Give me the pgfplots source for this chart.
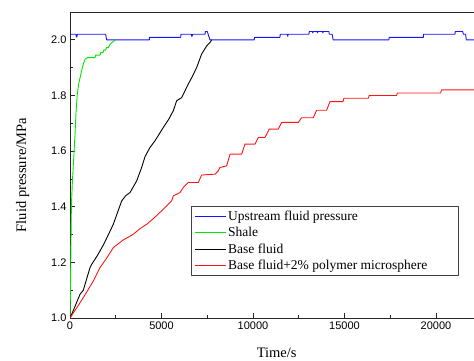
\documentclass[border=0pt]{standalone}
\usepackage{pgfplots}
\pgfplotsset{compat=1.18}
\usepackage{fontspec}
\setmainfont{Liberation Serif}
\newfontfamily\sansf{Liberation Sans}
\definecolor{ublue}{RGB}{20,20,255}
\definecolor{ugreen}{RGB}{0,230,0}
\definecolor{ured}{RGB}{255,20,20}
\begin{document}
\begin{tikzpicture}
\path[use as bounding box] (0,0) rectangle (474pt,360pt);
\begin{axis}[
  at={(70pt,42pt)}, anchor=south west,
  scale only axis, width=404pt, height=306pt,
  xmin=0, xmax=22080, ymin=1.0, ymax=2.1,
  separate axis lines,
  axis x line=box, axis y line=left,
  axis line style={-, line width=0.8pt, black!85},
  every outer y axis line/.append style={-},
  every outer x axis line/.append style={-},
  xtick={0,5000,10000,15000,20000},
  ytick={1.0,1.2,1.4,1.6,1.8,2.0},
  scaled x ticks=false, scaled y ticks=false,
  minor x tick num=1, minor y tick num=1,
  xtick pos=bottom, ytick pos=left,
  tick align=inside,
  major tick length=5pt, minor tick length=3pt,
  tick style={line width=0.8pt, black!85},
  /pgf/number format/assume math mode=true,
  tick label style={font=\sansf\fontsize{11}{13}\selectfont, /pgf/number format/assume math mode=true},
  xticklabel style={/pgf/number format/set thousands separator={}, /pgf/number format/assume math mode=true},
  yticklabel style={/pgf/number format/fixed, /pgf/number format/fixed zerofill, /pgf/number format/precision=1, /pgf/number format/assume math mode=true},
  xticklabel={\pgfmathprintnumber[assume math mode=true,set thousands separator={}]{\tick}},
  yticklabel={\pgfmathprintnumber[assume math mode=true,fixed,fixed zerofill,precision=1]{\tick}},
  xlabel={Time/s},
  ylabel={Fluid pressure/MPa},
  label style={font=\fontsize{14.5}{17}\selectfont},
  xlabel style={at={(axis description cs:0.5115,-0.1275)}, anchor=base},
  ylabel style={at={(axis description cs:-0.1089,0.467)}, anchor=base},
  legend style={at={(axis description cs:0.2995,0.366)}, anchor=north west,
    draw=black!75, line width=0.6pt, font=\fontsize{13.5}{16.5}\selectfont,
    inner xsep=3pt, inner ysep=3pt, row sep=1.2pt},
  legend cell align=left,
  legend image code/.code={\draw[#1] (0pt,0pt) -- (31pt,0pt);},
  line join=round,
]
\addplot[color=ublue, draw=ublue, line width=0.9pt] coordinates {
(0,2.02)(330,2.02)(345,2.01)(380,2.01)(395,2.02)(1950,2.02)(2000,2.0)(4335,2.0)(4345,2.009)(6050,2.009)(6065,2.02)(6630,2.02)(6645,2.013)(6680,2.013)(6695,2.02)(7380,2.02)(7400,2.03)(7500,2.03)(7600,2.01)(7650,2.0)(10070,2.0)(10085,2.009)(11475,2.009)(11490,2.02)(11880,2.02)(11890,2.013)(11910,2.013)(11920,2.02)(13060,2.02)(13080,2.03)(13250,2.03)(13270,2.025)(13300,2.03)(13500,2.03)(13520,2.025)(13550,2.03)(13800,2.03)(13820,2.025)(13850,2.03)(14150,2.03)(14170,2.02)(14330,2.02)(14380,2.0)(17430,2.0)(17445,2.009)(19310,2.009)(19325,2.02)(21040,2.02)(21055,2.03)(21460,2.03)(21500,2.02)(21620,2.02)(21660,2.0)(22100,2.0)};
\addlegendentry{Upstream fluid pressure}
\addplot[color=ugreen, draw=ugreen, line width=0.9pt] coordinates {
(0,1.0)(25,1.1)(50,1.25)(75,1.40)(130,1.49)(200,1.57)(274,1.66)(330,1.74)(400,1.806)(470,1.84)(547,1.863)(640,1.89)(730,1.914)(830,1.93)(947,1.936)(1368,1.936)(1400,1.945)(1642,1.945)(1680,1.954)(1800,1.954)(1850,1.963)(1950,1.963)(2000,1.972)(2100,1.972)(2150,1.98)(2250,1.988)(2400,1.996)(2500,2.0)};
\addlegendentry{Shale}
\addplot[color=black, draw=black, line width=0.9pt] coordinates {
(0,1.0)(200,1.03)(546,1.085)(727,1.10)(1093,1.181)(1186,1.193)(1500,1.225)(1820,1.262)(2100,1.30)(2366,1.337)(2600,1.38)(2825,1.421)(3050,1.44)(3279,1.451)(3645,1.493)(3915,1.541)(4100,1.58)(4370,1.613)(4645,1.637)(5100,1.685)(5400,1.715)(5645,1.745)(5830,1.781)(6100,1.792)(6465,1.841)(6700,1.87)(6920,1.90)(7195,1.949)(7470,1.978)(7650,1.99)(7740,2.0)};
\addlegendentry{Base fluid}
\addplot[color=ured, draw=ured, line width=0.9pt] coordinates {
(0,1.0)(300,1.03)(600,1.06)(910,1.093)(1250,1.13)(1639,1.181)(2000,1.215)(2366,1.253)(2900,1.28)(3459,1.301)(3800,1.32)(4191,1.337)(4600,1.36)(5100,1.391)(5557,1.421)(5645,1.439)(6011,1.451)(6193,1.469)(6465,1.487)(7011,1.487)(7195,1.514)(7923,1.517)(8104,1.529)(8197,1.541)(8563,1.547)(8750,1.589)(9383,1.589)(9560,1.625)(10109,1.625)(10290,1.649)(10656,1.649)(10893,1.679)(11384,1.679)(11568,1.703)(12475,1.703)(12658,1.720)(13296,1.720)(13480,1.747)(14026,1.747)(14208,1.778)(14920,1.778)(14973,1.790)(16300,1.790)(16360,1.80)(17850,1.80)(17885,1.809)(20254,1.809)(20310,1.820)(22100,1.820)};
\addlegendentry{\makebox[225pt][l]{Base fluid+2\% polymer microsphere}}
\end{axis}
\end{tikzpicture}
\end{document}
